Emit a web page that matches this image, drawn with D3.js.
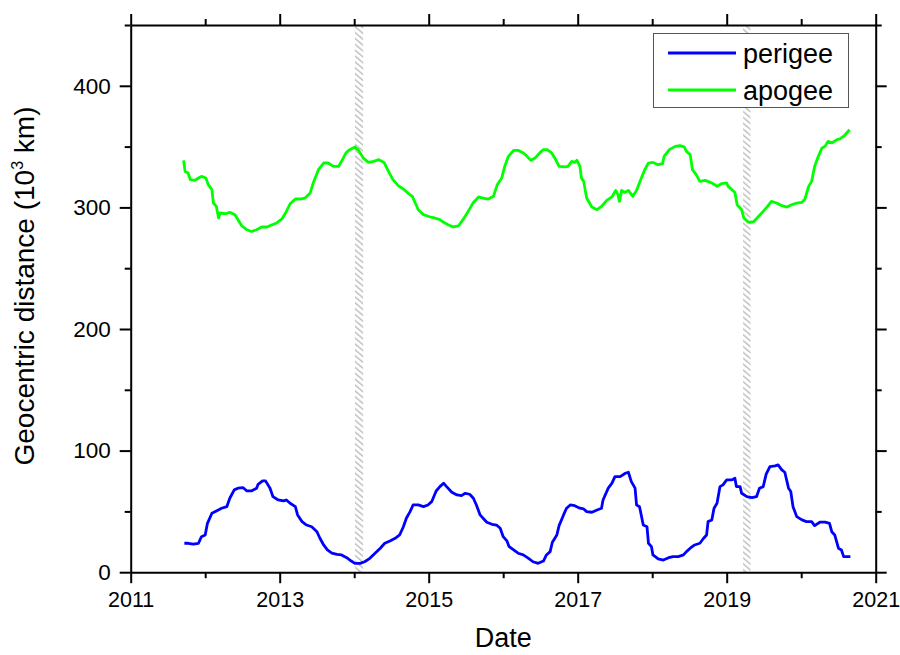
<!DOCTYPE html>
<html><head><meta charset="utf-8">
<script src="https://cdn.jsdelivr.net/npm/d3@7/dist/d3.min.js"></script>
<style>body{margin:0;background:#fff}svg{display:block;font-family:Arial,"Liberation Sans",sans-serif}</style>
</head><body><svg id="c" width="900" height="655"></svg>
<script>
const perigeeDates=[2011.72,2011.77,2011.84,2011.91,2011.95,2012.00,2012.03,2012.09,2012.15,2012.22,2012.29,2012.33,2012.39,2012.44,2012.51,2012.56,2012.62,2012.69,2012.71,2012.77,2012.81,2012.87,2012.91,2012.98,2013.05,2013.09,2013.14,2013.21,2013.24,2013.30,2013.36,2013.43,2013.50,2013.54,2013.59,2013.64,2013.70,2013.77,2013.83,2013.90,2013.96,2014.01,2014.08,2014.14,2014.21,2014.28,2014.35,2014.41,2014.48,2014.55,2014.61,2014.66,2014.70,2014.75,2014.79,2014.86,2014.93,2014.99,2015.04,2015.10,2015.15,2015.20,2015.24,2015.31,2015.38,2015.44,2015.49,2015.55,2015.60,2015.64,2015.69,2015.73,2015.78,2015.85,2015.91,2015.96,2016.00,2016.05,2016.08,2016.14,2016.20,2016.27,2016.34,2016.40,2016.47,2016.54,2016.58,2016.63,2016.66,2016.72,2016.75,2016.81,2016.85,2016.90,2016.96,2017.03,2017.08,2017.12,2017.19,2017.26,2017.32,2017.34,2017.41,2017.46,2017.50,2017.57,2017.64,2017.68,2017.72,2017.77,2017.79,2017.83,2017.88,2017.93,2017.95,2017.99,2018.01,2018.08,2018.15,2018.22,2018.28,2018.35,2018.42,2018.46,2018.51,2018.57,2018.64,2018.69,2018.73,2018.75,2018.80,2018.83,2018.87,2018.91,2018.95,2019.00,2019.07,2019.11,2019.13,2019.18,2019.20,2019.27,2019.34,2019.40,2019.44,2019.49,2019.53,2019.58,2019.65,2019.69,2019.74,2019.78,2019.83,2019.86,2019.89,2019.94,2020.01,2020.07,2020.14,2020.18,2020.25,2020.32,2020.38,2020.41,2020.45,2020.50,2020.54,2020.57,2020.63,2020.66];
const perigeeValues=[23.8,23.8,23.0,23.8,29.2,30.6,40.2,48.5,50.4,52.6,53.9,60.8,67.7,69.1,69.5,66.8,66.8,69.1,72.3,75.1,75.1,69.1,62.1,59.4,58.6,59.4,56.7,53.9,47.1,41.6,38.8,37.4,33.3,27.9,22.4,18.3,15.6,14.7,14.2,11.9,9.2,7.3,7.3,8.6,11.4,15.6,19.7,23.8,25.7,27.9,30.6,37.4,44.4,49.8,55.3,55.3,53.9,55.3,58.0,66.8,70.4,73.2,70.4,65.8,63.5,63.0,64.9,64.1,60.8,55.3,47.1,44.4,41.1,39.4,38.8,36.1,29.2,25.7,21.0,18.3,15.6,14.2,11.4,8.6,7.3,9.2,14.2,16.9,24.6,30.6,38.3,47.1,52.6,55.3,54.7,52.6,52.0,49.8,49.3,51.2,52.6,59.4,69.1,73.2,78.6,78.6,81.4,82.2,74.5,69.1,55.3,53.9,38.8,37.4,23.8,21.0,14.2,10.9,10.0,11.9,12.8,12.8,14.2,16.9,19.7,22.4,23.8,27.9,30.6,41.6,43.0,52.6,56.7,70.4,71.8,75.9,75.9,77.3,70.4,70.4,64.9,62.1,61.3,62.1,69.1,70.4,80.6,86.8,87.4,88.2,84.1,82.2,69.1,66.3,53.9,45.7,43.0,41.6,41.6,38.3,41.1,41.1,40.2,33.3,30.6,19.7,18.3,12.8,12.8,12.8];
const apogeeDates=[2011.71,2011.73,2011.77,2011.80,2011.86,2011.91,2011.95,2012.01,2012.04,2012.09,2012.11,2012.15,2012.18,2012.20,2012.27,2012.33,2012.40,2012.44,2012.49,2012.56,2012.62,2012.69,2012.76,2012.83,2012.89,2012.96,2013.03,2013.09,2013.14,2013.21,2013.27,2013.34,2013.41,2013.45,2013.52,2013.59,2013.65,2013.72,2013.79,2013.83,2013.89,2013.94,2014.01,2014.06,2014.12,2014.19,2014.26,2014.33,2014.40,2014.46,2014.52,2014.59,2014.66,2014.73,2014.78,2014.82,2014.86,2014.93,2015.02,2015.08,2015.15,2015.20,2015.26,2015.33,2015.40,2015.46,2015.53,2015.60,2015.67,2015.73,2015.80,2015.87,2015.92,2015.98,2016.02,2016.07,2016.14,2016.20,2016.27,2016.32,2016.37,2016.43,2016.49,2016.54,2016.59,2016.65,2016.70,2016.75,2016.83,2016.87,2016.92,2016.96,2016.99,2017.03,2017.05,2017.08,2017.12,2017.19,2017.26,2017.32,2017.39,2017.46,2017.51,2017.54,2017.56,2017.59,2017.63,2017.68,2017.74,2017.79,2017.84,2017.90,2017.95,2018.01,2018.08,2018.14,2018.16,2018.23,2018.31,2018.37,2018.43,2018.46,2018.51,2018.54,2018.59,2018.64,2018.71,2018.78,2018.84,2018.87,2018.93,2019.00,2019.02,2019.07,2019.11,2019.14,2019.20,2019.23,2019.29,2019.36,2019.42,2019.49,2019.54,2019.60,2019.67,2019.74,2019.81,2019.87,2019.94,2020.01,2020.05,2020.10,2020.14,2020.18,2020.23,2020.28,2020.32,2020.36,2020.41,2020.48,2020.52,2020.58,2020.61,2020.65];
const apogeeValues=[338.7,329.6,328.3,322.8,322.2,324.2,325.5,324.2,318.7,314.6,303.6,300.8,291.3,295.4,294.8,295.9,294.0,289.9,284.9,281.6,280.2,281.6,283.9,283.9,285.5,287.2,290.5,296.7,303.0,306.9,306.9,307.7,311.9,320.1,331.0,336.5,336.5,333.7,333.7,337.9,344.8,347.5,349.7,346.9,340.7,337.0,337.9,339.3,337.0,329.6,322.8,317.9,315.1,311.3,309.1,303.6,298.1,294.0,292.1,291.3,289.9,287.7,285.8,283.9,284.9,289.9,296.7,304.1,308.6,307.7,306.9,309.1,318.7,324.2,333.7,342.0,346.9,346.9,344.8,342.0,338.7,340.7,344.8,347.5,347.5,344.8,339.8,333.7,333.3,333.7,337.9,337.0,338.7,333.7,324.2,321.4,307.7,300.3,298.1,300.8,305.8,308.6,314.0,310.5,304.9,314.0,312.3,314.0,309.1,314.0,322.0,331.0,336.5,337.0,335.1,336.0,342.0,347.5,350.2,350.8,349.7,346.1,343.4,331.0,326.9,321.4,322.2,320.6,318.7,317.3,319.5,320.1,317.3,314.6,312.3,302.2,298.1,291.3,287.7,288.2,292.1,296.7,300.3,304.9,303.6,301.4,300.3,302.2,303.6,304.1,306.9,317.3,321.4,333.7,342.0,348.9,350.2,354.3,353.0,355.7,356.3,359.0,361.2,363.9];
const bandStarts=[2014.01,2019.22];
const bandEnds=[2014.12,2019.32];
const xTicks=[2011,2013,2015,2017,2019,2021];
const xMinor=[2012,2014,2016,2018,2020];
const yTicks=[0,100,200,300,400];
const yMinor=[50,150,250,350,450];
const seriesNames=["perigee","apogee"];
const seriesColors=["#0000ff","#00ff00"];

const svg=d3.select("#c");
const L=130.7,R=875.7,T=25,B=572.2;
const x=d3.scaleLinear().domain([2011,2021]).range([L,R]);
const y=d3.scaleLinear().domain([0,450]).range([B,T]);

const defs=svg.append("defs");
const pat=defs.append("pattern").attr("id","hatch").attr("patternUnits","userSpaceOnUse")
  .attr("width",4.5).attr("height",4.5).attr("patternTransform","rotate(-50)");
pat.append("rect").attr("width",4.5).attr("height",4.5).attr("fill","#fff");
pat.append("line").attr("x1",0).attr("y1",0).attr("x2",0).attr("y2",4.5).attr("stroke","#bdbdbd").attr("stroke-width",2.8);

// bands
svg.append("g").selectAll("rect").data(bandStarts).join("rect")
  .attr("x",(d)=>x(d)).attr("width",(d,i)=>x(bandEnds[i])-x(d))
  .attr("y",T).attr("height",B-T).attr("fill","url(#hatch)");

// lines
const series=[perigeeDates.map((d,i)=>[d,perigeeValues[i]]),apogeeDates.map((d,i)=>[d,apogeeValues[i]])];
const line=d3.line().x(d=>x(d[0])).y(d=>y(d[1]));
svg.append("g").selectAll("path").data(series).join("path")
  .attr("d",line).attr("fill","none").attr("stroke",(d,i)=>seriesColors[i])
  .attr("stroke-width",2.8).attr("stroke-linejoin","round");

// axes
function styleAxis(g){g.select(".domain").attr("stroke","#000").attr("stroke-width",2);
  g.selectAll(".tick line").attr("stroke","#000").attr("stroke-width",2);}
function minor(g){g.select(".domain").remove();g.selectAll("line").attr("stroke","#000").attr("stroke-width",2);}
const xb=svg.append("g").attr("transform",`translate(0,${B})`)
  .call(d3.axisBottom(x).tickValues(xTicks).tickFormat(d3.format("d")).tickSize(11).tickSizeOuter(0).tickPadding(9));
styleAxis(xb);
xb.selectAll("text").attr("font-size",21.5).attr("fill","#000");
xb.append("g").call(d3.axisBottom(x).tickValues(xMinor).tickSize(6).tickFormat("")).call(minor);

const xt=svg.append("g").attr("transform",`translate(0,${T})`)
  .call(d3.axisTop(x).tickValues(xTicks).tickSize(11).tickSizeOuter(0).tickFormat(""));
styleAxis(xt);
xt.append("g").call(d3.axisTop(x).tickValues(xMinor).tickSize(6).tickFormat("")).call(minor);

const yl=svg.append("g").attr("transform",`translate(${L},0)`)
  .call(d3.axisLeft(y).tickValues(yTicks).tickSize(11).tickSizeOuter(0).tickPadding(9));
styleAxis(yl);
yl.selectAll("text").attr("font-size",22.5).attr("fill","#000");
yl.append("g").call(d3.axisLeft(y).tickValues(yMinor).tickSize(6).tickFormat("")).call(minor);

const yr=svg.append("g").attr("transform",`translate(${R},0)`)
  .call(d3.axisRight(y).tickValues(yTicks).tickSize(11).tickSizeOuter(0).tickFormat(""));
styleAxis(yr);
yr.append("g").call(d3.axisRight(y).tickValues(yMinor).tickSize(6).tickFormat("")).call(minor);

// titles
svg.append("text").attr("x",(L+R)/2).attr("y",647).attr("text-anchor","middle")
  .attr("font-size",27).attr("fill","#000").text("Date");
const yt=svg.append("text").attr("transform",`translate(34,286) rotate(-90)`)
  .attr("text-anchor","middle").attr("font-size",28).attr("fill","#000");
yt.append("tspan").text("Geocentric distance (10");
yt.append("tspan").attr("font-size",16).attr("dy",-11).text("3");
yt.append("tspan").attr("dy",11).text(" km)");

// legend
const lg=svg.append("g");
lg.append("rect").attr("x",653.5).attr("y",33.5).attr("width",195).attr("height",74)
  .attr("fill","#fff").attr("stroke","#555").attr("stroke-width",1);
seriesNames.forEach((n,i)=>{
  const yy=53+i*37;
  lg.append("line").attr("x1",668).attr("x2",736).attr("y1",yy).attr("y2",yy)
    .attr("stroke",seriesColors[i]).attr("stroke-width",2.8);
  lg.append("text").attr("x",743).attr("y",yy+10).attr("font-size",27).attr("fill","#000").text(n);
});
</script></body></html>
